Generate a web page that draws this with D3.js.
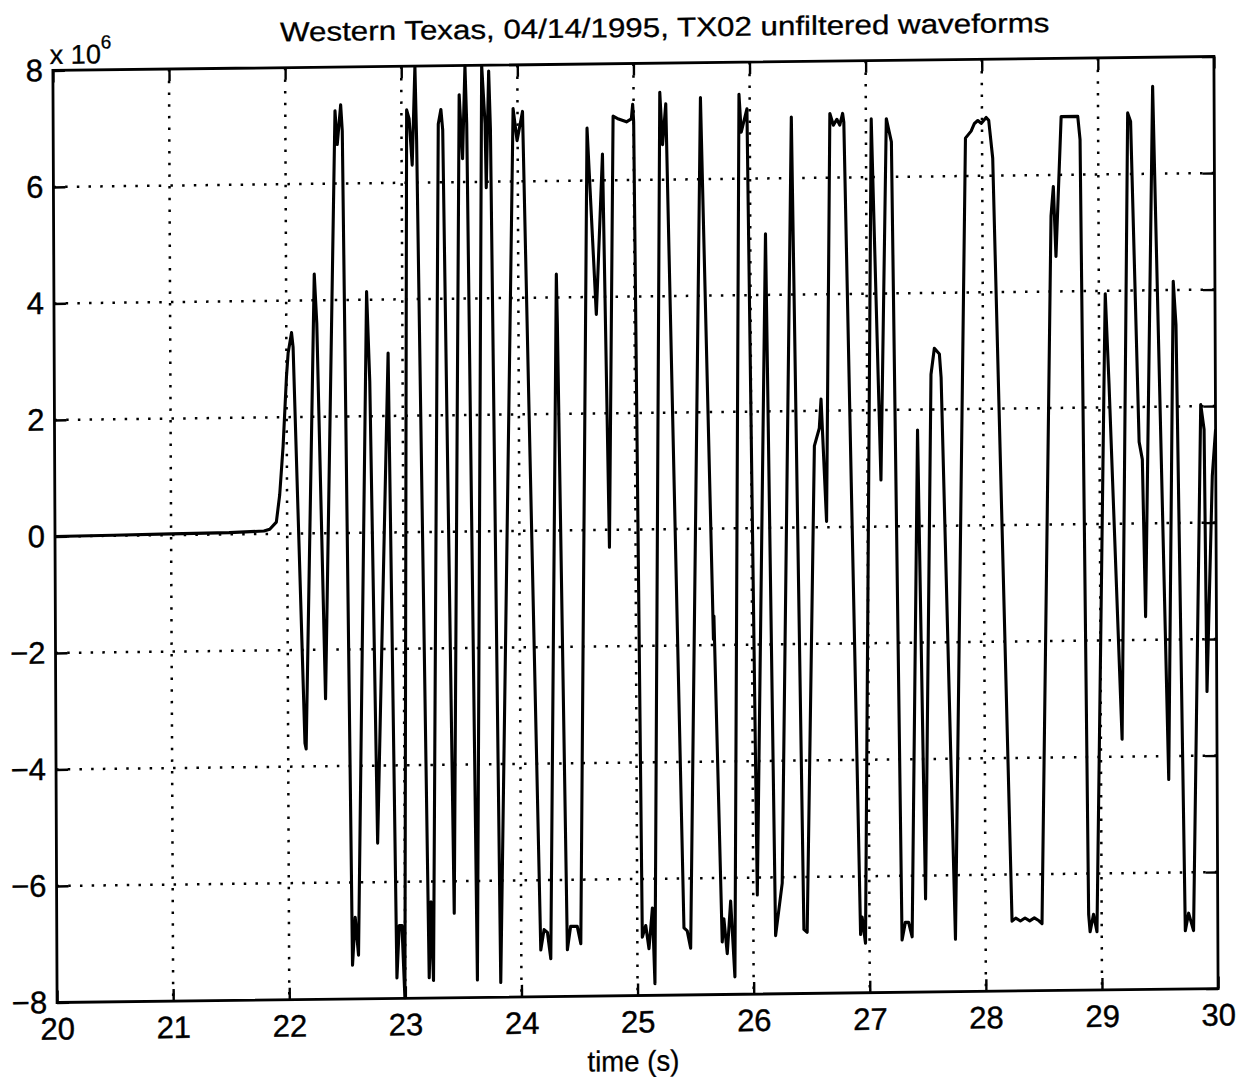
<!DOCTYPE html>
<html><head><meta charset="utf-8">
<script src="https://cdn.jsdelivr.net/npm/d3@7"></script>
<style>body{margin:0;background:#fff} svg{display:block}</style>
</head><body>
<svg id="chart" width="1249" height="1080"></svg>
<script>
const title = "Western Texas, 04/14/1995, TX02 unfiltered waveforms";
const xLabel = "time (s)";
const yExponent = "6";
const xTicks = [20,21,22,23,24,25,26,27,28,29,30];
const yTicks = [-8,-6,-4,-2,0,2,4,6,8];

// time (s)
const times = [
20.00,20.50,21.00,21.50,21.80,21.85,21.907,21.937,21.968,21.984,22.00,22.015,22.045,22.058,
22.145,22.155,22.243,22.263,22.324,22.428,22.446,22.477,22.49,
22.546,22.571,22.598,22.693,22.717,22.767,22.876,
22.928,22.95,22.973,22.996,
23.045,23.066,23.091,23.118,23.13,
23.206,23.224,23.243,23.317,23.34,23.355,23.424,
23.498,23.525,23.549,23.562,23.621,
23.693,23.72,23.728,23.753,23.766,23.822,
23.962,23.995,24.043,24.168,24.197,24.226,24.254,
24.328,24.335,24.397,24.426,24.483,24.513,
24.598,24.671,24.73,24.775,24.823,24.87,24.938,24.98,24.992,25.0,
25.043,25.073,25.10,25.131,25.15,25.226,25.248,25.277,
25.402,25.43,25.459,25.576,25.66,25.667,25.672,
25.731,25.746,25.774,25.805,25.839,25.908,25.926,25.976,
26.035,26.131,26.191,26.25,26.358,26.435,26.463,
26.544,26.587,26.603,26.646,26.69,26.72,26.75,26.775,26.80,26.81,
26.923,26.937,26.965,27.046,27.116,27.176,27.219,
27.28,27.309,27.337,27.367,27.433,27.484,27.551,27.581,27.624,27.638,27.74,
27.857,27.906,27.935,27.964,27.993,28.036,28.058,28.091,
28.228,28.26,28.30,28.34,28.38,28.42,28.46,28.486,
28.591,28.612,28.632,28.682,28.825,28.844,
28.888,28.90,28.93,28.959,29.045,29.055,29.084,29.183,29.255,29.28,
29.341,29.368,29.39,29.471,29.583,29.641,29.663,
29.72,29.749,29.791,29.873,29.901,29.916,29.97,30.00
];
// amplitude (x 10^6)
const values = [
0,0.01,0.02,0.03,0.05,0.08,0.2,0.67,1.5,2.1,2.7,3.1,3.45,3.2,
-3.6,-3.7,4.45,3.6,-2.84,7.25,6.67,7.35,6.9,
-7.42,-6.6,-7.25,4.14,2.6,-5.33,3.08,
-7.65,-6.75,-6.75,-8.0,
7.25,7.1,6.3,8.0,6.7,
-7.65,-6.35,-7.7,7.0,7.25,6.9,-6.55,
7.5,6.4,8.0,7.0,-7.7,
8.0,7.0,5.9,7.9,6.9,-7.75,
7.25,6.7,7.2,-7.2,-6.85,-6.9,-7.35,
4.4,3.55,-7.2,-6.8,-6.8,-7.1,
6.9,3.7,6.45,-0.3,7.1,7.05,7.0,7.05,7.3,7.0,
-7.0,-6.8,-7.2,-6.5,-7.8,7.5,6.6,7.3,
-6.85,-6.9,-7.2,7.4,-1.15,-1.9,-1.5,
-7.1,-6.7,-7.3,-6.4,-7.7,7.45,6.8,7.2,
-6.3,5.05,-7.0,-6.1,7.05,-6.9,-6.95,
1.4,1.7,2.2,0.1,7.1,6.9,7.0,6.9,7.1,6.95,
-7.0,-6.7,-7.15,7.0,0.8,7.0,6.6,
-7.1,-6.8,-6.8,-7.05,1.65,-6.4,2.6,3.05,2.95,2.55,-7.1,
6.65,6.77,6.9,6.95,6.9,7.0,6.95,6.3,
-6.8,-6.75,-6.8,-6.75,-6.8,-6.75,-6.8,-6.85,
5.3,5.8,4.6,7.0,7.0,6.6,
-6.7,-7.0,-6.7,-7.0,2.9,3.95,2.4,-3.7,7.05,6.9,
1.4,1.1,-1.6,7.5,-4.4,4.15,3.4,
-7.0,-6.7,-7.0,2.03,1.6,-2.9,0.8,1.6
];

const W = 1249, H = 1080;
const L = 55, R = 1216, T = 63.5, B = 995.5;
const FONT = "'Liberation Sans', Arial, Helvetica, sans-serif";

const svg = d3.select("#chart");
svg.append("rect").attr("width", W).attr("height", H).attr("fill", "#fff");
const g = svg.append("g").attr("transform", "matrix(1,-0.012,0.0045,1,-2.385,7.62)");

const x = d3.scaleLinear().domain([20, 30]).range([L, R]);
const y = d3.scaleLinear().domain([-8, 8]).range([B, T]);

// dotted grid
const grid = g.append("g").attr("stroke", "#000").attr("stroke-width", 2.5)
  .attr("stroke-dasharray", "2.5 9.2").attr("fill", "none");
grid.selectAll("line.v").data(xTicks.slice(1, -1)).join("line").attr("class", "v")
  .attr("x1", d => x(d)).attr("x2", d => x(d)).attr("y1", T).attr("y2", B);
grid.selectAll("line.h").data(yTicks.slice(1, -1)).join("line").attr("class", "h")
  .attr("x1", L).attr("x2", R).attr("y1", d => y(d)).attr("y2", d => y(d));

// data
const clipId = "plotclip";
svg.append("defs").append("clipPath").attr("id", clipId)
  .append("rect").attr("x", L).attr("y", T - 1).attr("width", R - L).attr("height", B - T + 2);
const line = d3.line().x((d, i) => x(times[i])).y((d, i) => y(values[i]));
g.append("path").datum(values).attr("d", line).attr("fill", "none")
  .attr("stroke", "#000").attr("stroke-width", 3.1).attr("stroke-linejoin", "round")
  .attr("clip-path", `url(#${clipId})`);

// axes with inward ticks
function styleAxis(sel) {
  sel.select(".domain").remove();
  sel.selectAll(".tick line").attr("stroke", "#000").attr("stroke-width", 2.4);
  sel.selectAll(".tick text").attr("fill", "#000").attr("stroke", "#000").attr("stroke-width", 0.4)
    .style("font-family", FONT).style("font-size", "31px");
}
const fmtY = d => d < 0 ? "\u2212" + Math.abs(d) : String(d);
g.append("g").attr("transform", `translate(0,${B})`)
  .call(d3.axisBottom(x).tickValues(xTicks).tickFormat(d => String(d)).tickSizeInner(-12).tickSizeOuter(0).tickPadding(15))
  .call(styleAxis);
g.append("g").attr("transform", `translate(${L},0)`)
  .call(d3.axisLeft(y).tickValues(yTicks).tickFormat(fmtY).tickSizeInner(-12).tickSizeOuter(0).tickPadding(10))
  .call(styleAxis);
g.append("g").attr("transform", `translate(0,${T})`)
  .call(d3.axisTop(x).tickValues(xTicks).tickFormat("").tickSizeInner(-12).tickSizeOuter(0))
  .call(styleAxis);
g.append("g").attr("transform", `translate(${R},0)`)
  .call(d3.axisRight(y).tickValues(yTicks).tickFormat("").tickSizeInner(-12).tickSizeOuter(0))
  .call(styleAxis);

// frame
g.append("rect").attr("x", L).attr("y", T).attr("width", R - L).attr("height", B - T)
  .attr("fill", "none").attr("stroke", "#000").attr("stroke-width", 2.8);

// title
g.append("text").attr("transform", `translate(667,37) scale(1.16,1)`)
  .attr("text-anchor", "middle").attr("stroke", "#000").attr("stroke-width", 0.3)
  .style("font-family", FONT).style("font-size", "27px").text(title);
// x label
g.append("text").attr("transform", `translate(631,1071) scale(0.95,1)`)
  .attr("text-anchor", "middle").attr("stroke", "#000").attr("stroke-width", 0.3)
  .style("font-family", FONT).style("font-size", "29px").text(xLabel);
// exponent
const ex = g.append("text").attr("transform", `translate(52,57)`)
  .attr("stroke", "#000").attr("stroke-width", 0.3)
  .style("font-family", FONT).style("font-size", "27px");
ex.append("tspan").text("x 10");
ex.append("tspan").attr("dy", -15).style("font-size", "19px").text(yExponent);
</script>
</body></html>
